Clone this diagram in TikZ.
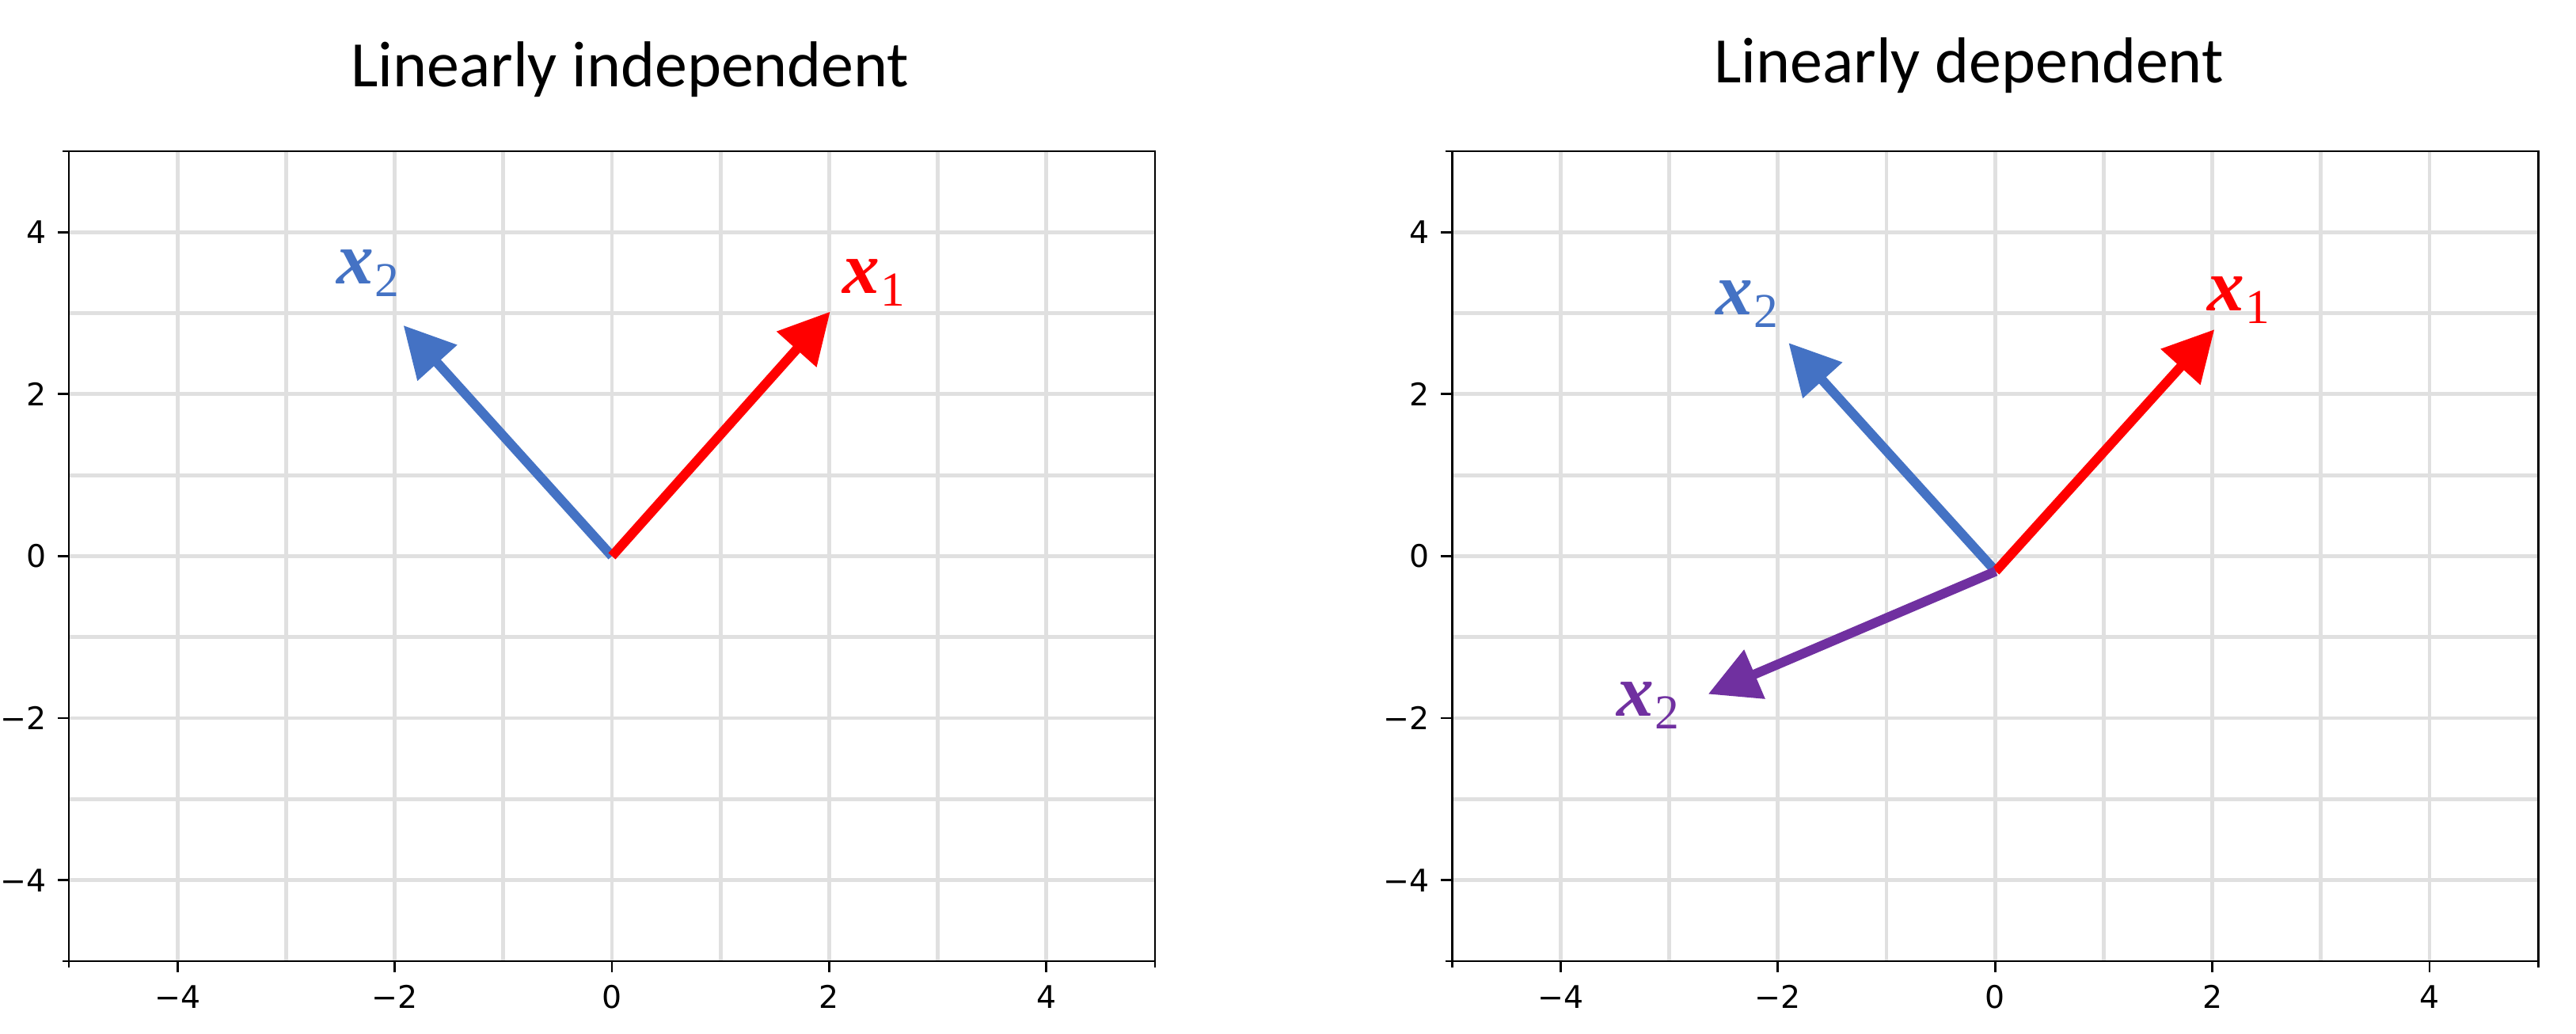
\documentclass[tikz,border=0pt]{standalone}
\usepackage{fontspec}
\setmainfont{Carlito}
\newfontfamily\tickfont{DejaVu Sans}
\newfontfamily\labfont{Liberation Serif}
\usetikzlibrary{arrows.meta}
\definecolor{cred}{HTML}{FF0000}
\definecolor{cblue}{HTML}{4472C4}
\definecolor{cpurple}{HTML}{7030A0}
\definecolor{gridgray}{HTML}{E0E0E0}
\newcommand{\veclab}[1]{{\labfont\fontsize{26.6}{30}\selectfont\bfseries\itshape x\/}\hspace{0.01cm}\raisebox{-0.16cm}{\labfont\fontsize{17.5}{19}\selectfont #1}}
\tikzset{
  gridline/.style={draw=gridgray, line width=0.048cm},
  spine/.style={draw=black, line width=0.028cm},
  tickmark/.style={draw=black, line width=0.028cm},
  ticklabel/.style={inner sep=0pt, font=\tickfont\fontsize{11.2}{13}\selectfont},
  titlelabel/.style={inner sep=0pt, anchor=base, font=\fontsize{23.3}{28}\selectfont},
  vec/.style={line width=0.12cm, line cap=butt, -{Triangle[length=0.64cm, width=0.645cm]}},
  vlabel/.style={inner sep=0pt}
}
\begin{document}
\begin{tikzpicture}[x=1cm, y=1cm]
\useasboundingbox (0,0) rectangle (32.54,13.06);
\fill[white] (0,0) rectangle (32.54,13.06);

\node[titlelabel] (T1) at (7.96,11.966) {Linearly independent};
\node[titlelabel] (T2) at (24.87,12.011) {Linearly dependent};

% ---------- left axes ----------
\begin{scope}[shift={(7.73cm,6.035cm)}, x=1.372cm, y=1.023cm]
  \foreach \i in {-4,...,4} {
    \draw[gridline] (\i,-5) -- (\i,5);
    \draw[gridline] (-5,\i) -- (5,\i);
  }
  \draw[spine] (-5,-5) rectangle (5,5);
  \foreach \v/\lab in {-4/−4,-2/−2,0/0,2/2,4/4} {
    \draw[tickmark] (\v,-5) -- ++(0,-0.14cm);
    \draw[tickmark] (-5,\v) -- ++(-0.14cm,0);
    \node[ticklabel, anchor=north, yshift=-0.30cm] (Lx\v) at (\v,-5) {\lab};
    \node[ticklabel, anchor=east, xshift=-0.28cm] (Ly\v) at (-5,\v) {\lab};
  }
  \draw[tickmark] (-5,-5) -- ++(0,-0.08cm);
  \draw[tickmark] (5,-5) -- ++(0,-0.08cm);
  \draw[tickmark] (-5,-5) -- ++(-0.08cm,0);
  \draw[tickmark] (-5,5) -- ++(-0.08cm,0);

  \coordinate (LO) at (0,0);
  \coordinate (LA) at (2.01,3.02);
  \coordinate (LB) at (-1.92,2.85);
  \draw[vec, cblue] (LO) -- (LB);
  \draw[vec, cred] (LO) -- (LA);
  \node[vlabel, text=cred] (LabA) at (2.413,3.372) {\veclab{1}};
  \node[vlabel, text=cblue] (LabB) at (-2.245,3.495) {\veclab{2}};
\end{scope}

% ---------- right axes ----------
\begin{scope}[shift={(25.2025cm,6.035cm)}, x=1.372cm, y=1.023cm]
  \foreach \i in {-4,...,4} {
    \draw[gridline] (\i,-5) -- (\i,5);
    \draw[gridline] (-5,\i) -- (5,\i);
  }
  \draw[spine] (-5,-5) rectangle (5,5);
  \foreach \v/\lab in {-4/−4,-2/−2,0/0,2/2,4/4} {
    \draw[tickmark] (\v,-5) -- ++(0,-0.14cm);
    \draw[tickmark] (-5,\v) -- ++(-0.14cm,0);
    \node[ticklabel, anchor=north, yshift=-0.30cm] (Rx\v) at (\v,-5) {\lab};
    \node[ticklabel, anchor=east, xshift=-0.28cm] (Ry\v) at (-5,\v) {\lab};
  }
  \draw[tickmark] (-5,-5) -- ++(0,-0.08cm);
  \draw[tickmark] (5,-5) -- ++(0,-0.08cm);
  \draw[tickmark] (-5,-5) -- ++(-0.08cm,0);
  \draw[tickmark] (-5,5) -- ++(-0.08cm,0);

  \coordinate (RO) at (0.005,-0.187);
  \coordinate (RA) at (2.019,2.80);
  \coordinate (RB) at (-1.902,2.634);
  \coordinate (RC) at (-2.643,-1.703);
  \draw[vec, cblue] (RO) -- (RB);
  \draw[vec, cred] (RO) -- (RA);
  \draw[vec, cpurple] (RO) -- (RC);
  \node[vlabel, text=cred] (RabA) at (2.243,3.157) {\veclab{1}};
  \node[vlabel, text=cblue] (RabB) at (-2.283,3.113) {\veclab{2}};
  \node[vlabel, text=cpurple] (RabC) at (-3.193,-1.843) {\veclab{2}};
\end{scope}
\end{tikzpicture}
\end{document}
